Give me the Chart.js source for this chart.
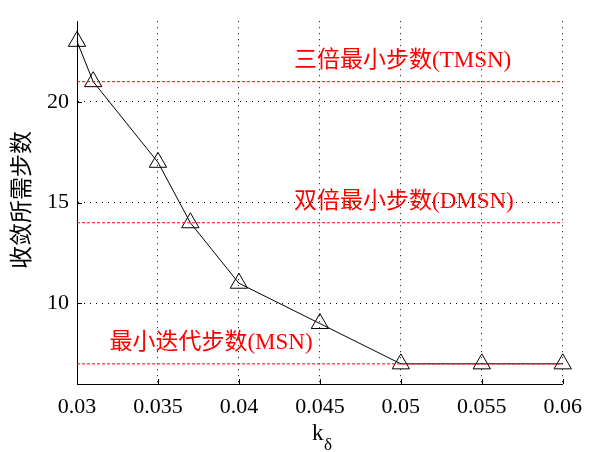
<!DOCTYPE html>
<html>
<head>
<meta charset="utf-8">
<script src="https://cdn.jsdelivr.net/npm/chart.js@4.4.0/dist/chart.umd.min.js"></script>
<style>
  html, body { margin: 0; padding: 0; background: #fff; }
  #wrap { width: 592px; height: 452px; }
</style>
</head>
<body>
<div id="wrap"><canvas id="grafico" width="592" height="452"></canvas></div>
<script>
// dados
const kDelta = [0.03, 0.031, 0.035, 0.037, 0.04, 0.045, 0.05, 0.055, 0.06];
const passos = [23, 21, 17, 14, 11, 9, 7, 7, 7];
const xTicks = [0.03, 0.035, 0.04, 0.045, 0.05, 0.055, 0.06];
const xTickLabels = ["0.03", "0.035", "0.04", "0.045", "0.05", "0.055", "0.06"];
const yTicks = [10, 15, 20];
const limiares = [21, 14, 7];
const limiarNomes = ["三倍最小步数(TMSN)", "双倍最小步数(DMSN)", "最小迭代步数(MSN)"];
const limiarTextoX = [0.0434, 0.0434, 0.032];

const FONTE = "Liberation Serif, Times New Roman, Noto Sans CJK SC, serif";

const linhasLimiar = limiares.map((v) => ({
	data: [{ x: 0.03, y: v }, { x: 0.06, y: v }],
	borderColor: "#ff0000",
	borderWidth: 1,
	borderDash: [3, 2],
	pointRadius: 0,
	fill: false
}));

// textos, ticks internos e titulos dos eixos
const extras = {
	id: "extras",
	afterDraw(chart) {
		const { ctx, scales: { x, y }, chartArea } = chart;
		ctx.save();
		// ticks internos
		ctx.strokeStyle = "#000";
		ctx.lineWidth = 1;
		ctx.beginPath();
		xTicks.forEach((t) => {
			const px = Math.round(x.getPixelForValue(t)) + 0.5;
			ctx.moveTo(px, chartArea.bottom);
			ctx.lineTo(px, chartArea.bottom - 5);
		});
		yTicks.forEach((t) => {
			const py = Math.round(y.getPixelForValue(t)) + 0.5;
			ctx.moveTo(chartArea.left, py);
			ctx.lineTo(chartArea.left + 5, py);
		});
		ctx.stroke();

		// rotulos vermelhos
		ctx.fillStyle = "#ff0000";
		ctx.font = "23px " + FONTE;
		ctx.textAlign = "left";
		ctx.textBaseline = "middle";
		limiares.forEach((v, i) => {
			const px = x.getPixelForValue(limiarTextoX[i]);
			const py = y.getPixelForValue(v) - 21;
			ctx.fillText(limiarNomes[i], px, py);
		});

		// titulo eixo x: k com subscrito delta
		ctx.fillStyle = "#000";
		ctx.textBaseline = "alphabetic";
		ctx.font = "23px " + FONTE;
		ctx.fillText("k", 312, 440);
		ctx.font = "17px " + FONTE;
		ctx.fillText("δ", 324, 450);

		// titulo eixo y
		ctx.translate(23, 200);
		ctx.rotate(-Math.PI / 2);
		ctx.font = "23px " + FONTE;
		ctx.textAlign = "center";
		ctx.textBaseline = "middle";
		ctx.fillText("收敛所需步数", 0, 0);
		ctx.restore();
	}
};

new Chart(document.getElementById("grafico"), {
	type: "line",
	data: {
		datasets: [
			...linhasLimiar,
			{
				data: kDelta.map((k, i) => ({ x: k, y: passos[i] })),
				borderColor: "#000",
				borderWidth: 1,
				tension: 0,
				pointStyle: "triangle",
				pointRadius: 10,
				pointBorderColor: "#000",
				pointBackgroundColor: "rgba(0,0,0,0)",
				pointBorderWidth: 1,
				clip: false
			}
		]
	},
	options: {
		responsive: false,
		animation: false,
		layout: { padding: { top: 15, right: 21, left: 0, bottom: 0 } },
		plugins: { legend: { display: false }, tooltip: { enabled: false } },
		scales: {
			x: {
				type: "linear",
				min: 0.03,
				max: 0.06,
				afterBuildTicks: (s) => { s.ticks = xTicks.map((v) => ({ value: v })); },
				afterFit: (s) => { s.height = 68; },
				ticks: {
					color: "#000",
					font: { family: FONTE, size: 22 },
					padding: 10,
					maxRotation: 0,
					callback: (v) => xTickLabels[xTicks.indexOf(v)]
				},
				grid: { color: "#000", lineWidth: 1, drawTicks: false },
				border: { display: true, color: "#000", width: 1, dash: [1, 5] }
			},
			y: {
				min: 6,
				max: 24,
				afterBuildTicks: (s) => { s.ticks = yTicks.map((v) => ({ value: v })); },
				afterFit: (s) => { s.width = 77; },
				ticks: {
					color: "#000",
					font: { family: FONTE, size: 22 },
					padding: 8
				},
				grid: { color: "#000", lineWidth: 1, drawTicks: false },
				border: { display: true, color: "#000", width: 1, dash: [1, 5] }
			}
		}
	},
	plugins: [extras]
});
</script>
</body>
</html>
